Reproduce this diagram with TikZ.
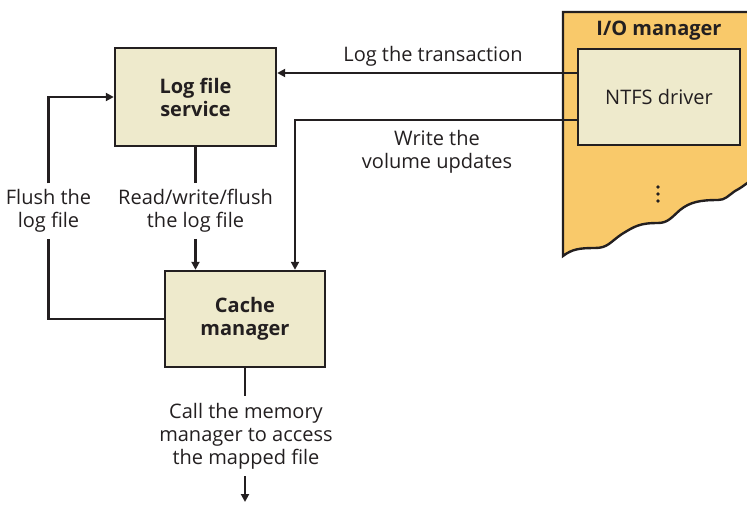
\documentclass[tikz,border=0pt]{standalone}
\usepackage{fontspec}
\setmainfont{Open Sans}
\usetikzlibrary{arrows.meta,calc}
\definecolor{ink}{HTML}{231F20}
\definecolor{beige}{HTML}{EEEACC}
\definecolor{iomgr}{HTML}{F9C96A}
\begin{document}
\begin{tikzpicture}[x=1pt,y=-1pt,
  txt/.style={font=\fontsize{20}{23}\selectfont, text=ink},
  box/.style={txt, draw=ink, fill=beige, line width=2.4pt, align=center, inner sep=0pt},
  lbl/.style={txt, align=center, inner sep=0pt},
  conn/.style={draw=ink, line width=2.4pt},
  arr/.style={conn, -{Triangle[length=8pt,width=8pt]}}]
\useasboundingbox (0,0) rectangle (747,504);
\clip (0,0) rectangle (747,504);
% I/O manager torn panel
\draw[conn, fill=iomgr] (563,256) -- (563,12) -- (760,12) -- (760,175)
  .. controls (752,178) and (745,186) .. (735,191)
  .. controls (728,196) and (725,200) .. (718,200)
  .. controls (700,200) and (690,202) .. (680,210)
  .. controls (672,217) and (668,223) .. (658,223)
  .. controls (640,223) and (635,226) .. (622,234)
  .. controls (610,242) and (608,248) .. (595,248)
  .. controls (580,248) and (572,249) .. (563,256) -- cycle;
\node[txt, font=\fontsize{20}{23}\selectfont\bfseries] (io) at (659,31) {I/O manager};
\fill[ink] (658,187) circle (1.9pt) (658,194) circle (1.9pt) (658,201) circle (1.9pt);
% boxes
\node[box, minimum width=162pt, minimum height=96pt] (ntfs) at (659,97) {NTFS driver};
\node[box, font=\fontsize{20}{23}\selectfont\bfseries, minimum width=161pt, minimum height=98pt] (lfs) at (195.5,97) {Log file\\service};
\node[box, font=\fontsize{20}{23}\selectfont\bfseries, minimum width=160pt, minimum height=96pt] (cm) at (245,319) {Cache\\manager};
% labels
\node[lbl] (lt) at (433,56) {Log the transaction};
\node[lbl] (wv) at (437,152) {Write the\\volume updates};
\node[lbl, inner ysep=6pt] (fl) at (48.5,211) {Flush the\\log file};
\node[lbl, inner ysep=6pt] (rw) at (195.5,211) {Read/write/flush\\the log file};
\node[lbl, inner ysep=7pt] (call) at (246,436) {Call the memory\\manager to access\\the mapped file};
\coordinate (t1) at ($(ntfs.west)+(0,-24)$);
\coordinate (t2) at ($(ntfs.west)+(0,23)$);
\coordinate (vd) at ($(cm.north)+(50,0)$);
\coordinate (bot) at (245,502);
% connectors
\draw[arr] (t1) -- (t1 -| lfs.east);
\draw[arr] (t2) -| (vd);
\draw[conn] (lfs.south) -- (lfs.south |- rw.north);
\draw[arr] (lfs.south |- rw.south) -- (lfs.south |- cm.north);
\draw[conn] (cm.west) -| (fl.south);
\draw[arr] (fl.north) |- (lfs.west);
\draw[conn] (cm.south) -- (cm.south |- call.north);
\draw[arr] (cm.south |- call.south) -- (bot);
\end{tikzpicture}
\end{document}
